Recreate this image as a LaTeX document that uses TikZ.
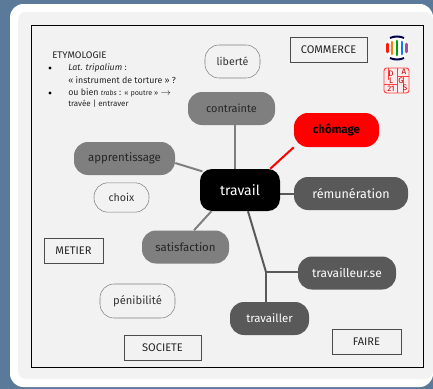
\documentclass[tikz,border=0pt]{standalone}
\usepackage{fontspec}
\setmainfont{Fira Sans}
\usetikzlibrary{backgrounds}
\definecolor{pageblue}{HTML}{5B7A99}
\definecolor{panelgray}{HTML}{F2F2F2}
\definecolor{midgray}{HTML}{7F7F7F}
\definecolor{darkgray}{HTML}{595959}
\begin{document}
\begin{tikzpicture}[
  x=.75pt, y=-.75pt,
  pill/.style={rectangle, rounded corners=10.5pt, minimum height=24.75pt, inner sep=0pt, font=\fontsize{8.6}{10}\selectfont},
  midpill/.style={pill, fill=midgray, text=black!85},
  darkpill/.style={pill, fill=darkgray, text=white},
  openpill/.style={pill, draw=midgray, fill=panelgray, text=black!80, font=\fontsize{8}{9}\selectfont},
  tag/.style={rectangle, draw=black!70, line width=.45pt, fill=panelgray, minimum height=18.75pt, inner sep=0pt, text=black!85, font=\fontsize{8.3}{9}\selectfont},
  etym/.style={anchor=west, inner sep=0pt, text=black!85, font=\fontsize{6.6}{7.5}\selectfont},
  puce/.style={circle, fill=black, inner sep=0pt, minimum size=2.6pt},
  link/.style={line width=1.5pt},
  stampletter/.style={inner sep=0pt, text=red!75!black, font=\fontsize{6}{6}\selectfont}
]
\useasboundingbox (0,0) rectangle (433,389);

% Central node and themes
\node[pill, fill=black, text=white, rounded corners=9pt, minimum width=60pt, minimum height=31.5pt, font=\fontsize{10.5}{12}\selectfont] (travail) at (240,190) {travail};
\node[midpill, minimum width=65.25pt, font=\fontsize{8.2}{10}\selectfont] (contrainte) at (231.5,108.5) {contrainte};
\node[pill, fill=red, text=black, minimum width=63.75pt, minimum height=25.5pt, font=\fontsize{8.6}{10}\selectfont\bfseries] (chomage) at (336.5,130) {chômage};
\node[midpill, minimum width=75.75pt] (apprentissage) at (124.5,158.5) {apprentissage};
\node[darkpill, minimum width=85.5pt, font=\fontsize{9.4}{10}\selectfont] (remuneration) at (351,193.5) {rémunération};
\node[midpill, minimum width=65.25pt] (satisfaction) at (185.5,247) {satisfaction};
\node[darkpill, minimum width=73.5pt, font=\fontsize{9}{10}\selectfont] (travailleur) at (347,273) {travailleur.se};
\node[darkpill, minimum width=59.25pt] (travailler) at (269.5,318.5) {travailler};
\coordinate (fork) at (266,272);

% Open themes
\node[openpill, minimum width=41.25pt] (liberte) at (232.5,61.5) {liberté};
\node[openpill, minimum width=41.25pt, minimum height=22pt] (choix) at (121.5,197.5) {choix};
\node[openpill, minimum width=56.25pt, minimum height=25.5pt, font=\fontsize{8.4}{9}\selectfont] (penibilite) at (137.5,301) {pénibilité};

% Fields
\node[tag, minimum width=57.75pt] (commerce) at (328.5,49.5) {COMMERCE};
\node[tag, minimum width=44.25pt] (metier) at (73.5,251) {METIER};
\node[tag, minimum width=57.75pt] (societe) at (162.5,347.5) {SOCIETE};
\node[tag, minimum width=51.75pt] (faire) at (366.5,341.5) {FAIRE};

% Etymology
\node[etym, font=\fontsize{7.2}{8}\selectfont] (etymologie) at (52,55) {ETYMOLOGIE};
\node[puce] (puce1) at (50,68) {};
\node[etym] (lat) at (68,68) {\textit{Lat. tripalium} :};
\node[etym] (torture) at (68,80) {« instrument de torture » ?};
\node[puce] (puce2) at (50,93) {};
\node[etym] (trabs) at (68,93) {ou bien {\fontsize{5.2}{6}\selectfont\textit{trabs}} : {\fontsize{5.4}{6}\selectfont « poutre »} $\rightarrow$};
\node[etym, font=\fontsize{6}{7}\selectfont] (travee) at (68,104) {travée | entraver};

% Panels and connectors
\begin{scope}[on background layer]
\fill[pageblue] (0,0) rectangle (433,389);
\fill[white, rounded corners=10pt] (10,4) rectangle (433,387);
\fill[panelgray, rounded corners=6pt] (18,12) rectangle (433,379);
\draw[black, line width=.55pt] (31,25) rectangle (423,367);
\draw[link, midgray] ([xshift=2.6pt]contrainte.south) -- ([xshift=2.6pt]contrainte.south |- travail.north);
\draw[link, red] (chomage.south west) -- ([xshift=-7.5pt]travail.north east);
\draw[link, midgray] ([yshift=-3.4pt]apprentissage.east) -- ([xshift=2pt,yshift=-2pt]travail.north west);
\draw[link, midgray] ([xshift=6.4pt]satisfaction.north) -- ([xshift=-21.5pt]travail.south);
\draw[link, darkgray] (remuneration.west) -- (remuneration.west -| travail.east);
\draw[link, darkgray] ([xshift=6pt]travail.south) -- (fork);
\draw[link, darkgray] (fork) -- (fork -| travailleur.west);
\draw[link, darkgray] (fork) -- (fork |- travailler.north);
\end{scope}

% Logos
\fill[white] (397,48) circle (12);
\draw[line width=2pt, red!80!orange, line cap=round] (387.5,44) -- (387.5,52);
\draw[line width=2.2pt, orange, line cap=round] (392,42) -- (392,54);
\draw[line width=2.2pt, green!65!black, line cap=round] (397,41) -- (397,55);
\draw[line width=2.2pt, blue!50!cyan, line cap=round] (402,42) -- (402,54);
\draw[line width=2pt, violet!70, line cap=round] (406.5,44) -- (406.5,52);
\draw[line width=1.5pt, black!70!blue] (390,38) .. controls (394,36) and (400,36) .. (404,38);
\draw[line width=1.5pt, black!70!blue] (390,58) .. controls (394,60) and (400,60) .. (404,58);
\draw[red!75, fill=red!8, rounded corners=2pt, line width=.7pt] (384,68) rectangle (409,93);
\draw[red!75, line width=.7pt] (384,84) -- (397,84) -- (397,68) (397,76) -- (409,76) (397,84) -- (397,93) (388,68) -- (388,80) (403,76) -- (403,93);
\node[stampletter] (stampd) at (391,74) {D};
\node[stampletter] (stampa) at (404,72) {A};
\node[stampletter] (stampl) at (391,81) {L};
\node[stampletter] (stampg) at (401,81) {G};
\node[stampletter] (stamps) at (405,88) {S};
\node[stampletter] (stampn) at (391,89) {21};
\end{tikzpicture}
\end{document}
